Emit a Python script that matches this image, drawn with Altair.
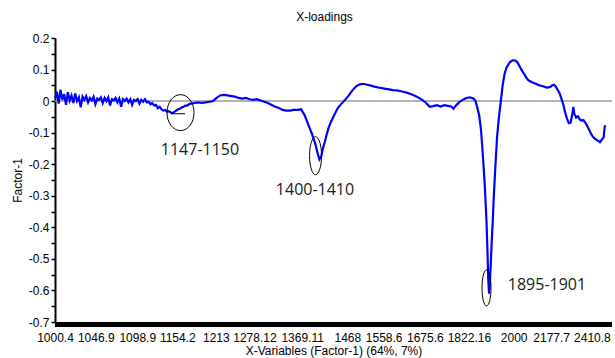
import altair as alt
import pandas as pd

# ---------------------------------------------------------------------------
# X-variable labels (nm). The variables sit on an even wavenumber grid (cm-1),
# so the x axis is drawn in wavenumber and labelled with the variable names.
# ---------------------------------------------------------------------------
x_tick_labels = ["1000.4", "1046.9", "1098.9", "1154.2", "1213", "1278.12", "1369.11",
                 "1468", "1558.6", "1675.6", "1822.16", "2000", "2177.7", "2410.8"]
x_tick_positions = [round(1e7 / float(t)) for t in x_tick_labels]

y_domain = [-0.7, 0.2]
y_tick_values = [round(0.2 - 0.05 * i, 2) for i in range(19)]

# Factor-1 loadings, segment by segment (wavenumber, loading)
wn_a = list(range(9996, 8499, -20))
load_a = [0.010, 0.030, -0.008, 0.036, 0.004, 0.022, -0.012, 0.028, 0.002, 0.018,
          -0.006, 0.024, 0.000, 0.012, -0.020, 0.014, 0.004, 0.016, -0.004, 0.010,
          0.002, 0.014, -0.010, 0.008, 0.004, 0.012, -0.006, 0.010, 0.000, 0.012,
          -0.014, 0.006, 0.002, 0.010, -0.004, 0.008, -0.018, 0.006, 0.000, 0.008,
          -0.004, 0.006, -0.012, 0.004, 0.000, 0.006, -0.008, 0.004, -0.002, 0.006,
          -0.004, -0.002, -0.010, -0.006, -0.014, -0.012, -0.022, -0.018, -0.026, -0.030,
          -0.028, -0.034, -0.032, -0.036, -0.038, -0.034, -0.030, -0.026, -0.024, -0.020,
          -0.018, -0.014, -0.014, -0.010, -0.008]

wn_b = list(range(8476, 7279, -40))
load_b = [-0.006, -0.004, -0.006, -0.004, -0.002, 0.000, 0.010, 0.018, 0.020, 0.018,
          0.016, 0.014, 0.010, 0.008, 0.010, 0.006, 0.004, 0.006, 0.002, -0.002,
          -0.006, -0.012, -0.018, -0.022, -0.028, -0.030, -0.030, -0.028, -0.028, -0.026]

wn_c = [7276, 7236, 7196, 7156, 7136, 7116, 7096, 7076, 7056, 7036,
        7016, 6996, 6956, 6916, 6876, 6836, 6796, 6756, 6716, 6676,
        6636, 6596, 6556, 6516, 6476, 6436, 6396, 6356, 6316, 6276,
        6236, 6196, 6156, 6116, 6076, 6036, 5996, 5956, 5916, 5876,
        5836, 5796, 5756, 5716, 5676, 5656, 5636, 5596, 5556, 5516,
        5476, 5436, 5416, 5396, 5376, 5356, 5336, 5316, 5296, 5286,
        5276, 5268, 5260, 5250, 5240, 5228, 5216, 5200, 5180, 5160,
        5140, 5120, 5100, 5080, 5060, 5040, 5020, 5000, 4980, 4960,
        4940, 4920, 4900, 4880, 4860, 4840, 4800, 4760, 4720, 4680,
        4640, 4600, 4580, 4560, 4540, 4520, 4500, 4480, 4460, 4440,
        4420, 4400, 4380, 4360, 4350, 4340, 4320, 4300, 4280, 4260,
        4240, 4220, 4200, 4180, 4160, 4140, 4120, 4100, 4080, 4060,
        4040, 4020, 4008, 3996]
load_c = [-0.045, -0.075, -0.105, -0.140, -0.165, -0.185, -0.175, -0.148, -0.128, -0.105,
          -0.085, -0.070, -0.045, -0.022, -0.008, 0.004, 0.018, 0.034, 0.047, 0.053,
          0.055, 0.052, 0.049, 0.046, 0.043, 0.041, 0.039, 0.037, 0.035, 0.034,
          0.032, 0.029, 0.026, 0.022, 0.017, 0.011, 0.004, -0.005, -0.018, -0.016,
          -0.013, -0.017, -0.013, -0.015, -0.018, -0.024, -0.016, -0.004, 0.004, 0.010,
          0.012, 0.008, 0.000, -0.020, -0.045, -0.090, -0.170, -0.260, -0.380, -0.470,
          -0.570, -0.610, -0.580, -0.520, -0.450, -0.380, -0.300, -0.210, -0.110, -0.050,
          0.000, 0.050, 0.085, 0.105, 0.115, 0.124, 0.128, 0.130, 0.128, 0.123,
          0.113, 0.102, 0.092, 0.083, 0.073, 0.066, 0.060, 0.055, 0.050, 0.047,
          0.043, 0.045, 0.050, 0.052, 0.045, 0.035, 0.025, 0.008, -0.010, -0.035,
          -0.055, -0.070, -0.068, -0.040, -0.018, -0.040, -0.052, -0.048, -0.058, -0.062,
          -0.060, -0.068, -0.078, -0.090, -0.102, -0.112, -0.118, -0.122, -0.126, -0.130,
          -0.122, -0.115, -0.080, -0.078]

wavenumber = wn_a + wn_b + wn_c
loading = load_a + load_b + load_c

# Annotated bands: label text, label anchor and ring centre (wavenumber, loading)
band_labels = ["1147-1150", "1400-1410", "1895-1901"]
band_label_wn = [8417, 7164, 4637]
band_label_y = [-0.154, -0.281, -0.583]
band_ring_wn = [8629, 7158, 5296]
band_ring_y = [-0.0365, -0.173, -0.592]
# short marker inside the first ring
marker_wn = [8732, 8580]
marker_y = -0.04

# ring geometry (pixels): height and width of each ellipse
ring_style = {"1147-1150": (36, 27), "1400-1410": (38, 12), "1895-1901": (36, 9)}


def ellipse_path(aspect):
    """Closed ellipse in the unit box, width = aspect * height."""
    k = 0.5523
    a = aspect
    return (f"M{a:.4f},0 C{a:.4f},{k} {a * k:.4f},1 0,1 "
            f"C{-a * k:.4f},1 {-a:.4f},{k} {-a:.4f},0 "
            f"C{-a:.4f},{-k} {-a * k:.4f},-1 0,-1 "
            f"C{a * k:.4f},-1 {a:.4f},{-k} {a:.4f},0 Z")


spectrum = pd.DataFrame({"wn": wavenumber, "value": loading})
labels_df = pd.DataFrame({"wn": band_label_wn, "value": band_label_y, "text": band_labels})
rings_df = pd.DataFrame({
    "wn": band_ring_wn,
    "value": band_ring_y,
    "band": band_labels,
    "area": [ring_style[b][0] ** 2 for b in band_labels],
})
marker_df = pd.DataFrame({"wn": [marker_wn[0]], "wn2": [marker_wn[1]], "value": [marker_y]})
zero_df = pd.DataFrame({"value": [0.0]})
floor_df = pd.DataFrame({"value": [y_domain[0]]})

label_lookup = ("[" + ",".join(f"'{t}'" for t in x_tick_labels) + "][indexof(["
                + ",".join(str(p) for p in x_tick_positions) + "], datum.value)]")

FONT = "Liberation Sans"

X = alt.X(
    "wn:Q",
    scale=alt.Scale(domain=[3929, 9996], reverse=True, nice=False, zero=False),
    axis=alt.Axis(
        values=x_tick_positions,
        labelExpr=label_lookup,
        ticks=False,
        tickSize=0,
        domain=False,
        offset=2,
        labelPadding=8,
        labelOverlap=False,
        labelFlush=False,
        labelFont=FONT,
        labelFontSize=12,
        labelColor="black",
        title="X-Variables (Factor-1) (64%, 7%)",
        titleFont=FONT,
        titleFontSize=12,
        titleFontWeight="normal",
        titleColor="black",
        titlePadding=2,
        grid=False,
    ),
)

Y = alt.Y(
    "value:Q",
    scale=alt.Scale(domain=y_domain, nice=False, zero=False),
    axis=alt.Axis(
        values=y_tick_values,
        labelExpr="round(datum.value * 20) % 2 == 0 ? "
                  "(datum.value < -0.001 ? '-' : '') + format(abs(datum.value), '.1~f') : ''",
        tickSize=4,
        tickWidth=1.5,
        tickColor="black",
        domainColor="black",
        domainWidth=2,
        labelPadding=2,
        labelOverlap=False,
        labelFont=FONT,
        labelFontSize=12,
        labelColor="black",
        title="Factor-1",
        titleFont=FONT,
        titleFontSize=12,
        titleFontWeight="normal",
        titleColor="black",
        titlePadding=4,
        grid=False,
    ),
)

zero_rule = alt.Chart(zero_df).mark_rule(color="#9a9a9a", strokeWidth=1.5).encode(y=Y)

# heavy baseline along the bottom of the plot
floor_rule = alt.Chart(floor_df).mark_rule(color="black", strokeWidth=5, yOffset=2.5).encode(y=Y)

line = alt.Chart(spectrum).mark_line(color="#0000ff", strokeWidth=2.2).encode(
    x=X, y=Y, order="wn:Q"
)

rings = alt.Chart(rings_df).mark_point(filled=False, color="black", strokeWidth=1, opacity=1).encode(
    x=X,
    y=Y,
    shape=alt.Shape(
        "band:N",
        scale=alt.Scale(
            domain=band_labels,
            range=[ellipse_path(ring_style[b][1] / ring_style[b][0]) for b in band_labels],
        ),
        legend=None,
    ),
    size=alt.Size("area:Q", scale=None, legend=None),
)

marker = alt.Chart(marker_df).mark_rule(color="black", strokeWidth=1).encode(
    x=X, x2="wn2:Q", y=Y
)

texts = alt.Chart(labels_df).mark_text(
    font="Open Sans", fontSize=16, color="#1a1a1a", align="center", baseline="middle"
).encode(x=X, y=Y, text="text:N")

chart = (
    alt.layer(zero_rule, floor_rule, line, rings, marker, texts)
    .properties(
        width=557,
        height=284,
        padding={"left": 55, "top": 38, "right": 3, "bottom": 36},
        autosize=alt.AutoSizeParams(type="none"),
        title=alt.TitleParams(
            "X-loadings", font=FONT, fontSize=12, fontWeight="normal",
            color="black", offset=8, dx=-9,
        ),
    )
    .configure_view(stroke=None)
)

chart.save("out.html", embed_options={"renderer": "svg", "actions": False})
